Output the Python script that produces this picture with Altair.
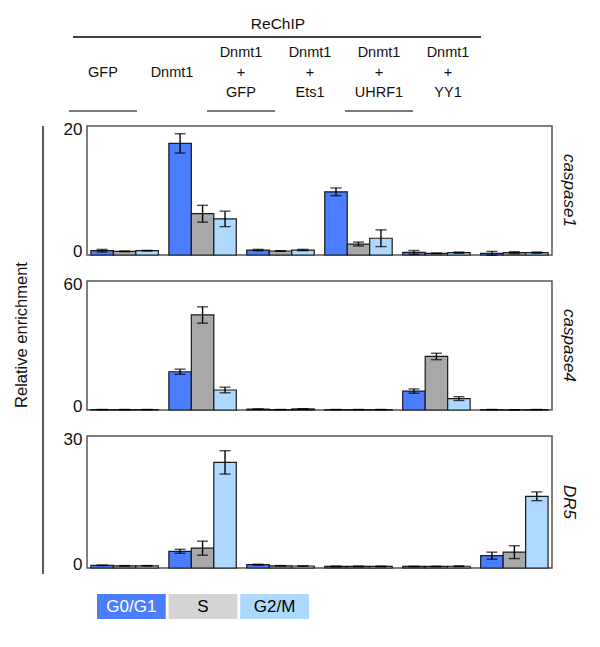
import altair as alt
import pandas as pd

FONT = "Liberation Sans"

groups = ["GFP", "Dnmt1", "Dnmt1+GFP", "Dnmt1+Ets1", "Dnmt1+UHRF1", "Dnmt1+YY1"]
phases = ["G0/G1", "S", "G2/M"]
bar_colors = ["#4A7DFF", "#A8A8A8", "#ADD8FF"]
legend_fills = ["#4A7DFF", "#D4D4D4", "#ADD8FF"]
legend_text_colors = ["white", "black", "black"]

genes = ["caspase1", "caspase4", "DR5"]
y_max = [20, 60, 30]
panel_heights = [129, 129, 132]

caspase1_mean = [0.67, 0.57, 0.67, 17.3, 6.4, 5.6, 0.77, 0.62, 0.77, 9.8, 1.7, 2.6, 0.4, 0.26, 0.36, 0.26, 0.36, 0.36]
caspase1_err = [0.2, 0.05, 0.05, 1.5, 1.3, 1.2, 0.1, 0.05, 0.1, 0.6, 0.3, 1.3, 0.3, 0.05, 0.1, 0.3, 0.15, 0.1]
caspase4_mean = [0.2, 0.2, 0.2, 17.8, 44.2, 9.3, 0.4, 0.2, 0.5, 0.2, 0.2, 0.2, 8.8, 24.9, 5.3, 0.2, 0.1, 0.2]
caspase4_err = [0.05, 0.05, 0.05, 1.2, 3.8, 1.3, 0.05, 0.05, 0.05, 0.05, 0.05, 0.05, 1.0, 1.5, 0.9, 0.05, 0.05, 0.05]
dr5_mean = [0.6, 0.5, 0.5, 3.8, 4.5, 24.0, 0.75, 0.5, 0.45, 0.35, 0.35, 0.35, 0.35, 0.35, 0.4, 2.8, 3.6, 16.3]
dr5_err = [0.05, 0.05, 0.05, 0.45, 1.6, 2.65, 0.1, 0.05, 0.05, 0.1, 0.1, 0.1, 0.05, 0.05, 0.1, 0.8, 1.45, 1.0]

means = [caspase1_mean, caspase4_mean, dr5_mean]
errors = [caspase1_err, caspase4_err, dr5_err]

header_top = ["", "", "Dnmt1", "Dnmt1", "Dnmt1", "Dnmt1"]
header_mid = ["GFP", "Dnmt1", "+", "+", "+", "+"]
header_bot = ["", "", "GFP", "Ets1", "UHRF1", "YY1"]
underlined = [True, False, True, False, True, False]

W = 465

x_enc = alt.X("group:N", sort=groups,
              scale=alt.Scale(domain=groups, paddingInner=0.135, paddingOuter=0.05),
              axis=None)


def panel(i):
    df = pd.DataFrame({
        "group": [g for g in groups for _ in phases],
        "phase": phases * len(groups),
        "value": means[i],
        "err": errors[i],
    })
    H = panel_heights[i]
    yscale = alt.Scale(domain=[0, y_max[i]], nice=False, zero=True)
    yaxis = alt.Axis(values=[0, y_max[i]], ticks=False, domain=False, grid=False,
                     title=None, labelFlush=True, labelFlushOffset=5, labelFontSize=17,
                     labelPadding=5, labelColor="#111", labelFont=FONT)
    base = alt.Chart(df).encode(
        x=x_enc,
        xOffset=alt.XOffset("phase:N", sort=phases, scale=alt.Scale(domain=phases)),
    )
    bars = base.mark_bar(stroke="#1a1a1a", strokeWidth=1.2).encode(
        y=alt.Y("value:Q", scale=yscale, axis=yaxis),
        color=alt.Color("phase:N", sort=phases,
                        scale=alt.Scale(domain=phases, range=bar_colors), legend=None),
    )
    eb = base.transform_calculate(lo="datum.value - datum.err", hi="datum.value + datum.err")
    rule = eb.mark_rule(color="black", strokeWidth=1.4).encode(
        y=alt.Y("lo:Q", scale=yscale, axis=yaxis), y2="hi:Q")
    cap_lo = eb.mark_tick(color="black", size=11, thickness=1.4, orient="horizontal").encode(
        y=alt.Y("lo:Q", scale=yscale, axis=yaxis))
    cap_hi = eb.mark_tick(color="black", size=11, thickness=1.4, orient="horizontal").encode(
        y=alt.Y("hi:Q", scale=yscale, axis=yaxis))
    label = alt.Chart(pd.DataFrame({"t": [genes[i]]})).mark_text(
        angle=90, fontStyle="italic", fontSize=17, font=FONT, color="#111"
    ).encode(text="t:N", x=alt.value(W + 17), y=alt.value(H / 2))
    layers = [bars, rule, cap_lo, cap_hi, label]
    if i == 1:
        left_line = alt.Chart(pd.DataFrame({"a": [0]})).mark_rule(
            color="black", strokeWidth=1.3
        ).encode(x=alt.value(-44), y=alt.value(-155), y2=alt.value(293))
        ytitle = alt.Chart(pd.DataFrame({"t": ["Relative enrichment"]})).mark_text(
            angle=270, fontSize=16.5, font=FONT, color="#111"
        ).encode(text="t:N", x=alt.value(-65), y=alt.value(54))
        layers += [left_line, ytitle]
    return alt.layer(*layers).properties(width=W, height=H)


# header
hdr_rows = []
for g, a, b, c in zip(groups, header_top, header_mid, header_bot):
    for line, t in enumerate([a, b, c]):
        if t:
            hdr_rows.append({"group": g, "line": line, "text": t})
hdr_df = pd.DataFrame(hdr_rows)
ul_df = pd.DataFrame({"group": [g for g, u in zip(groups, underlined) if u]})

hx = alt.X("group:N", sort=groups,
           scale=alt.Scale(domain=groups, range=[-18.5, 395.5], paddingInner=0, paddingOuter=0),
           axis=None)
hdr_text = alt.Chart(hdr_df).mark_text(fontSize=14.5, font=FONT, color="#111").encode(
    x=hx,
    y=alt.Y("line:Q", scale=alt.Scale(domain=[0, 2], range=[39, 79]), axis=None),
    text="text:N",
)
hdr_ul = alt.Chart(ul_df).mark_tick(orient="horizontal", size=68, thickness=1.5, color="black").encode(
    x=hx, y=alt.value(97))
rechip = alt.Chart(pd.DataFrame({"t": ["ReChIP"]})).mark_text(fontSize=15.5, font=FONT, color="#111").encode(
    text="t:N", x=alt.value(191), y=alt.value(10))
rechip_line = alt.Chart(pd.DataFrame({"a": [0]})).mark_rule(color="black", strokeWidth=1.5).encode(
    x=alt.value(-14), x2=alt.value(394), y=alt.value(23))
header = alt.layer(rechip, rechip_line, hdr_text, hdr_ul).properties(
    width=W, height=86, view=alt.ViewBackground(stroke="transparent"))

# legend
leg_df = pd.DataFrame({"phase": phases, "tcolor": legend_text_colors})
lx = alt.X("phase:N", sort=phases,
           scale=alt.Scale(domain=phases, range=[10, 222], paddingInner=0.04, paddingOuter=0),
           axis=None)
leg_rect = alt.Chart(leg_df).mark_rect().encode(
    x=lx, y=alt.value(0), y2=alt.value(25),
    color=alt.Color("phase:N", scale=alt.Scale(domain=phases, range=legend_fills), legend=None))
leg_text = alt.Chart(leg_df).mark_text(fontSize=17, font=FONT).encode(
    x=lx, y=alt.value(13), text="phase:N",
    color=alt.Color("tcolor:N", scale=None, legend=None))
legend = alt.layer(leg_rect, leg_text).resolve_scale(color="independent").properties(
    width=W, height=25, view=alt.ViewBackground(stroke="transparent"))

chart = alt.vconcat(header, panel(0), panel(1), panel(2), legend, spacing=26, bounds="flush")
chart = chart.configure(font=FONT).configure_view(stroke="#555", strokeWidth=1.5)

chart.save("out.html", embed_options={"renderer": "svg", "actions": False})
